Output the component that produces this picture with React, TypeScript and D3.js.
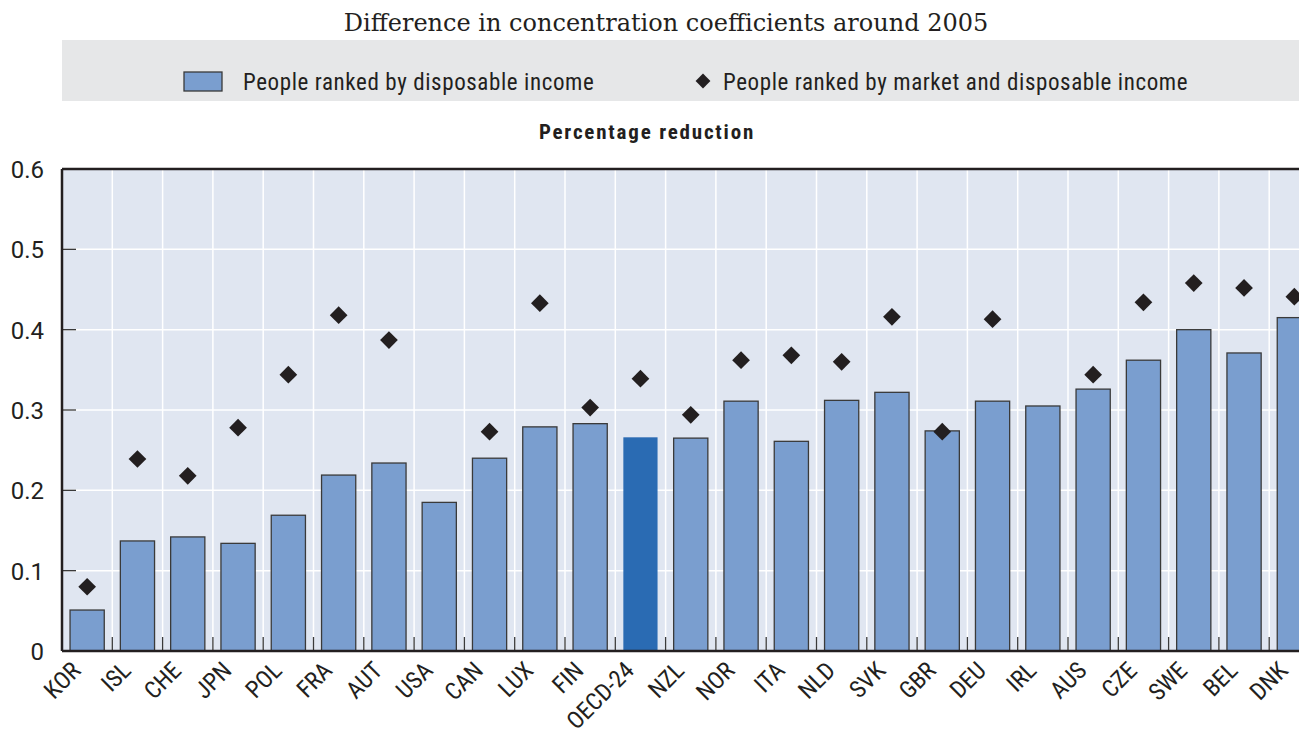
import React, { useEffect, useRef } from "react";
import * as d3 from "d3";

const countries = ["KOR", "ISL", "CHE", "JPN", "POL", "FRA", "AUT", "USA", "CAN", "LUX", "FIN", "OECD-24", "NZL", "NOR", "ITA", "NLD", "SVK", "GBR", "DEU", "IRL", "AUS", "CZE", "SWE", "BEL", "DNK"];
const disposable = [0.051, 0.137, 0.142, 0.134, 0.169, 0.219, 0.234, 0.185, 0.240, 0.279, 0.283, 0.266, 0.265, 0.311, 0.261, 0.312, 0.322, 0.274, 0.311, 0.305, 0.326, 0.362, 0.400, 0.371, 0.415];
const marketAndDisposable = [0.080, 0.239, 0.218, 0.278, 0.344, 0.418, 0.387, null, 0.273, 0.433, 0.303, 0.339, 0.294, 0.362, 0.368, 0.360, 0.416, 0.273, 0.413, null, 0.344, 0.434, 0.458, 0.452, 0.441];
const yTicks = [0, 0.1, 0.2, 0.3, 0.4, 0.5, 0.6];

const W = 1299, H = 738;
const narrow = "'Roboto Condensed', 'Liberation Sans Narrow', Roboto, sans-serif";

export default function App() {
  const ref = useRef<SVGSVGElement>(null);

  useEffect(() => {
    const svg = d3.select(ref.current);
    svg.selectAll("*").remove();

    const margin = { left: 62, top: 169, bottom: 651 };
    const plotRight = margin.left + countries.length * 50.3;

    const x = d3.scaleBand().domain(countries).range([margin.left, plotRight]).paddingInner(0.32).paddingOuter(0.16);
    const y = d3.scaleLinear().domain([0, 0.6]).range([margin.bottom, margin.top]);
    const step = x.step();

    // title
    svg.append("text").attr("x", 666).attr("y", 31).attr("text-anchor", "middle")
      .attr("font-family", "'DejaVu Serif', serif").attr("font-size", 24).attr("fill", "#231f20")
      .text("Difference in concentration coefficients around 2005");

    // legend
    svg.append("rect").attr("x", 62).attr("y", 40).attr("width", W - 62).attr("height", 61).attr("fill", "#e6e7e8");
    svg.append("rect").attr("x", 184).attr("y", 72).attr("width", 38).attr("height", 19)
      .attr("fill", "#7a9ecf").attr("stroke", "#3a3a3a").attr("stroke-width", 1.3);
    svg.append("text").attr("x", 243).attr("y", 90).attr("font-family", narrow).attr("font-size", 23)
      .attr("letter-spacing", 0.6).attr("fill", "#231f20")
      .text("People ranked by disposable income");
    svg.append("path").attr("d", d3.symbol(d3.symbolDiamond2, 140)()).attr("transform", "translate(703,81)").attr("fill", "#231f20");
    svg.append("text").attr("x", 723).attr("y", 90).attr("font-family", narrow).attr("font-size", 23)
      .attr("letter-spacing", 0.6).attr("fill", "#231f20")
      .text("People ranked by market and disposable income");

    svg.append("text").attr("x", 647).attr("y", 139).attr("text-anchor", "middle").attr("font-family", narrow)
      .attr("font-weight", "bold").attr("font-size", 21).attr("letter-spacing", 1.8).attr("fill", "#231f20")
      .text("Percentage reduction");

    // plot background
    svg.append("rect").attr("x", margin.left).attr("y", margin.top).attr("width", plotRight - margin.left)
      .attr("height", margin.bottom - margin.top).attr("fill", "#e0e6f1");

    // grid
    const g = svg.append("g");
    g.selectAll(".hgrid").data(yTicks.slice(1)).join("line")
      .attr("x1", margin.left).attr("x2", plotRight).attr("y1", d => y(d)).attr("y2", d => y(d))
      .attr("stroke", "#ffffff").attr("stroke-width", 1.5);
    const bounds = countries.slice(1).map((c) => x(c)! - step * x.paddingInner() / 2);
    g.selectAll(".vgrid").data(bounds).join("line")
      .attr("x1", d => d).attr("x2", d => d).attr("y1", margin.top).attr("y2", margin.bottom)
      .attr("stroke", "#ffffff").attr("stroke-width", 1.5);

    // bars
    svg.append("g").selectAll("rect").data(countries).join("rect")
      .attr("x", d => x(d)!).attr("width", x.bandwidth())
      .attr("y", (d, i) => y(disposable[i])).attr("height", (d, i) => y(0) - y(disposable[i]))
      .attr("fill", d => d === "OECD-24" ? "#2a6bb3" : "#7a9ecf")
      .attr("stroke", d => d === "OECD-24" ? "none" : "#3a3a3a").attr("stroke-width", 1.3);

    // diamonds
    svg.append("g").selectAll("path").data(countries.filter((c, i) => marketAndDisposable[i] != null)).join("path")
      .attr("d", d3.symbol(d3.symbolDiamond2, 200)())
      .attr("transform", d => `translate(${x(d)! + x.bandwidth() / 2},${y(marketAndDisposable[countries.indexOf(d)] as number)})`)
      .attr("fill", "#231f20");

    // ticks at band boundaries along bottom
    svg.append("g").selectAll("line").data(bounds).join("line")
      .attr("x1", d => d).attr("x2", d => d).attr("y1", margin.bottom - 14).attr("y2", margin.bottom)
      .attr("stroke", "#3a3a3a").attr("stroke-width", 1.3);

    // y ticks inside left
    svg.append("g").selectAll("line").data(yTicks.slice(1, -1)).join("line")
      .attr("x1", margin.left).attr("x2", margin.left + 14).attr("y1", d => y(d)).attr("y2", d => y(d))
      .attr("stroke", "#3a3a3a").attr("stroke-width", 1.3);

    // frame
    svg.append("line").attr("x1", margin.left).attr("x2", plotRight).attr("y1", margin.top).attr("y2", margin.top)
      .attr("stroke", "#231f20").attr("stroke-width", 2.5);
    svg.append("line").attr("x1", margin.left).attr("x2", margin.left).attr("y1", margin.top).attr("y2", margin.bottom)
      .attr("stroke", "#231f20").attr("stroke-width", 2.5);
    svg.append("line").attr("x1", margin.left).attr("x2", plotRight).attr("y1", margin.bottom).attr("y2", margin.bottom)
      .attr("stroke", "#231f20").attr("stroke-width", 2.5);

    // y labels
    svg.append("g").selectAll("text").data(yTicks).join("text")
      .attr("x", 44).attr("y", d => y(d) + 9).attr("text-anchor", "end")
      .attr("font-family", "Roboto, sans-serif").attr("font-size", 24).attr("fill", "#231f20")
      .text(d => d === 0 ? "0" : d3.format(".1f")(d));

    // x labels
    svg.append("g").selectAll("text").data(countries).join("text")
      .attr("transform", d => `translate(${x(d)! + x.bandwidth() / 2 - 11},${margin.bottom + 15}) rotate(-45)`)
      .attr("text-anchor", "end").attr("dy", "0.35em")
      .attr("font-family", narrow).attr("font-size", 24).attr("fill", "#231f20")
      .text(d => d);
  }, []);

  return <svg ref={ref} width={W} height={H} style={{ position: "absolute", left: 0, top: 0 }} />;
}
